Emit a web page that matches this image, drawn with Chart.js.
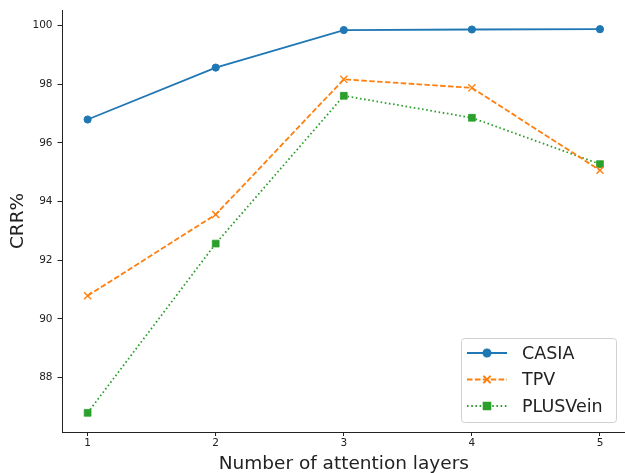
<!DOCTYPE html>
<html>
<head>
<meta charset="utf-8">
<script src="https://cdn.jsdelivr.net/npm/chart.js@4.4.1/dist/chart.umd.min.js"></script>
<style>
    html, body { margin: 0; padding: 0; background: #fff; overflow: hidden; }
    #wrap { width: 625px; height: 473px; overflow: hidden; position: relative; }
    #crrChart { position: absolute; left: 0; top: 0; }
</style>
</head>
<body>
<div id="wrap"><canvas id="crrChart" width="632" height="473"></canvas></div>
<script>
// Data
const layers = [1, 2, 3, 4, 5];
const casia = [96.80, 98.57, 99.85, 99.87, 99.88];
const tpv = [90.79, 93.56, 98.17, 97.88, 95.07];
const plusVein = [86.80, 92.57, 97.61, 96.86, 95.28];
const seriesNames = ['CASIA', 'TPV', 'PLUSVein'];
const xTicks = [1, 2, 3, 4, 5];
const yTicks = [88, 90, 92, 94, 96, 98, 100];

const FONT = "'DejaVu Sans', sans-serif";
const INK = '#222';

// matplotlib-like 5% margins around the data
const allY = casia.concat(tpv, plusVein);
const yLo = Math.min(...allY), yHi = Math.max(...allY);
const xLo = Math.min(...layers), xHi = Math.max(...layers);
const yPad = (yHi - yLo) * 0.05, xPad = (xHi - xLo) * 0.05;

const toPoints = vals => vals.map((v, i) => ({ x: layers[i], y: v }));

// legend drawn in the lower right, line + marker like matplotlib
const lineLegend = {
    id: 'lineLegend',
    afterDraw(chart) {
        const ctx = chart.ctx;
        const ca = chart.chartArea;
        const boxR = ca.right - 9.6, boxB = ca.bottom - 10;
        const boxW = 155, boxH = 84;
        const boxL = boxR - boxW, boxT = boxB - boxH;
        ctx.save();
        ctx.fillStyle = 'rgba(255,255,255,0.8)';
        ctx.strokeStyle = '#d0d0d0';
        ctx.lineWidth = 1;
        ctx.beginPath();
        ctx.roundRect(boxL + 0.5, boxT + 0.5, boxW, boxH, 3);
        ctx.fill();
        ctx.stroke();

        ctx.font = '17.5px ' + FONT;
        ctx.textBaseline = 'middle';
        ctx.textAlign = 'left';
        chart.data.datasets.forEach((ds, i) => {
            const y = boxT + 15 + i * 26.5;
            const x0 = boxL + 6, x1 = boxL + 46, xm = (x0 + x1) / 2;
            ctx.strokeStyle = ds.borderColor;
            ctx.lineWidth = ds.borderWidth;
            ctx.setLineDash(ds.borderDash || []);
            ctx.beginPath();
            ctx.moveTo(x0, y);
            ctx.lineTo(x1, y);
            ctx.stroke();
            ctx.setLineDash([]);
            Chart.helpers.drawPoint(ctx, {
                pointStyle: ds.pointStyle,
                radius: ds.pointRadius,
                borderWidth: ds.pointBorderWidth
            }, xm, y);
            ctx.fillStyle = ds.pointBackgroundColor;
            ctx.strokeStyle = ds.borderColor;
            ctx.lineWidth = ds.pointBorderWidth;
            if (ds.pointStyle !== 'crossRot') ctx.fill();
            ctx.stroke();
            ctx.fillStyle = INK;
            ctx.fillText(ds.label, boxL + 61, y + 1);
        });
        ctx.restore();
    }
};

const ctx = document.getElementById('crrChart').getContext('2d');
new Chart(ctx, {
    type: 'line',
    data: {
        datasets: [{
            label: seriesNames[0],
            data: toPoints(casia),
            borderColor: '#1f77b4',
            backgroundColor: '#1f77b4',
            pointBackgroundColor: '#1f77b4',
            borderWidth: 1.8,
            pointStyle: 'circle',
            pointRadius: 3.6,
            pointBorderWidth: 1
        }, {
            label: seriesNames[1],
            data: toPoints(tpv),
            borderColor: '#ff7f0e',
            backgroundColor: '#ff7f0e',
            pointBackgroundColor: '#ff7f0e',
            borderWidth: 1.8,
            borderDash: [5.5, 2.4],
            pointStyle: 'crossRot',
            pointRadius: 5,
            pointBorderWidth: 1.4
        }, {
            label: seriesNames[2],
            data: toPoints(plusVein),
            borderColor: '#2ca02c',
            backgroundColor: '#2ca02c',
            pointBackgroundColor: '#2ca02c',
            borderWidth: 1.8,
            borderDash: [1.6, 2.6],
            pointStyle: 'rect',
            pointRadius: 4.8,
            pointBorderWidth: 0.8
        }]
    },
    options: {
        responsive: false,
        animation: false,
        layout: { padding: { top: 10, right: 5.4, left: 0, bottom: 0 } },
        plugins: {
            legend: { display: false },
            tooltip: { enabled: false }
        },
        elements: { line: { tension: 0 } },
        scales: {
            x: {
                type: 'linear',
                min: xLo - xPad,
                max: xHi + xPad,
                afterFit: scale => {
                    scale.height = 41;
                    scale.paddingLeft = 0;
                    scale.paddingRight = 0;
                },
                afterBuildTicks: scale => { scale.ticks = xTicks.map(v => ({ value: v })); },
                grid: { drawOnChartArea: false, tickLength: 4, tickColor: INK, tickWidth: 1 },
                border: { color: INK, width: 1 },
                ticks: { color: INK, padding: 1, font: { family: FONT, size: 10.5 }, maxRotation: 0 },
                title: {
                    display: true,
                    text: 'Number of attention layers',
                    color: INK,
                    font: { family: FONT, size: 18.5, lineHeight: 1.0 },
                    padding: { top: 0, bottom: 0 }
                }
            },
            y: {
                min: yLo - yPad,
                max: yHi + yPad,
                afterFit: scale => {
                    scale.width = 62;
                    scale.paddingTop = 0;
                    scale.paddingBottom = 0;
                },
                afterBuildTicks: scale => { scale.ticks = yTicks.map(v => ({ value: v })); },
                grid: { drawOnChartArea: false, tickLength: 4.5, tickColor: INK, tickWidth: 1 },
                border: { color: INK, width: 1 },
                ticks: { color: INK, padding: 5, font: { family: FONT, size: 10.5 } },
                title: {
                    display: true,
                    text: 'CRR%',
                    color: INK,
                    font: { family: FONT, size: 18.5, lineHeight: 1.2 },
                    padding: { top: 7, bottom: 0 }
                }
            }
        }
    },
    plugins: [lineLegend]
});
</script>
</body>
</html>
